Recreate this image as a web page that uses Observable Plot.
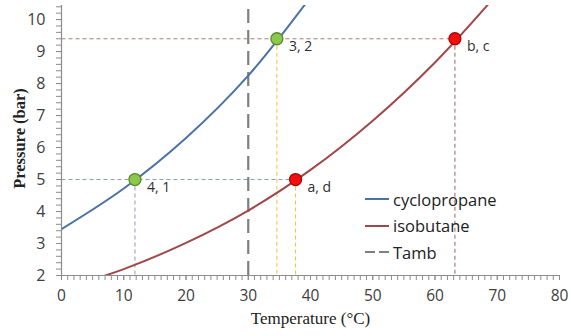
<!DOCTYPE html>
<html>
<head>
<meta charset="utf-8">
<script src="https://cdn.jsdelivr.net/npm/d3@7"></script>
<script src="https://cdn.jsdelivr.net/npm/@observablehq/plot@0.6"></script>
<style>
  body { margin: 0; background: #fff; }
  #wrap { position: relative; width: 571px; height: 336px; }
  #legend { position: absolute; left: 365px; top: 186px; font-family: "Open Sans", sans-serif; font-size: 16.5px; color: #222; }
  #legend .row { display: flex; align-items: center; height: 26.5px; }
  #legend svg { margin-right: 4px; }
</style>
</head>
<body>
<div id="wrap"><div id="legend"></div></div>
<script>
// Data
const temps = [0, 10, 20, 30, 40, 50, 60, 70];
const cycloP = [3.45, 4.72, 6.3, 8.25, 10.7];
const isoP = [1.57, 2.2, 3.02, 4.03, 5.3, 6.84, 8.66, 10.8];
const tamb = 30;
const stateLabels = ["4, 1", "3, 2", "a, d", "b, c"];
const stateT = [11.8, 34.6, 37.6, 63.2];
const stateP = [5, 9.4, 5, 9.4];
const stateFluid = ["cyclopropane", "cyclopropane", "isobutane", "isobutane"];
const xTicks = [0, 10, 20, 30, 40, 50, 60, 70, 80];
const yTicks = [2, 3, 4, 5, 6, 7, 8, 9, 10];
const seriesNames = ["cyclopropane", "isobutane", "Tamb"];

const yMin = 2, yMax = 10.44, xMin = 0, xMax = 80;

const cyclo = cycloP.map((p, i) => ({T: temps[i], P: p}));
const iso = isoP.map((p, i) => ({T: temps[i], P: p}));
const states = stateLabels.map((l, i) => ({label: l, T: stateT[i], P: stateP[i], fluid: stateFluid[i]}));

// guide lines derived from the state points
const guides = [
  {x1: xMin, y1: stateP[3], x2: stateT[3], y2: stateP[3], c: "#b87474"},
  {x1: stateT[3], y1: stateP[3], x2: stateT[3], y2: yMin, c: "#a06060"},
  {x1: stateT[1], y1: stateP[1], x2: stateT[1], y2: yMin, c: "#f0c040"},
  {x1: stateT[2], y1: stateP[2], x2: stateT[2], y2: yMin, c: "#f0c040"},
  {x1: xMin, y1: stateP[0], x2: stateT[2], y2: stateP[0], c: "#8a9cb2"},
  {x1: stateT[0], y1: stateP[0], x2: stateT[0], y2: yMin, c: "#8a9cb2"}
];

const blue = "#4a72a4", red = "#a04848", gray = "#7f7f7f", axisGray = "#8c8c8c";
const fillMap = {cyclopropane: "#8cc84b", isobutane: "#f01010"};
const strokeMap = {cyclopropane: "#5a8a2a", isobutane: "#b00000"};

const plot = Plot.plot({
  width: 571,
  height: 336,
  marginLeft: 61,
  marginRight: 12,
  marginTop: 5,
  marginBottom: 61,
  style: {fontFamily: "'Open Sans', sans-serif", background: "transparent"},
  x: {domain: [xMin, xMax], axis: null},
  y: {domain: [yMin, yMax], axis: null},
  marks: [
    Plot.link(guides, {x1: "x1", y1: "y1", x2: "x2", y2: "y2", stroke: d => d.c, strokeWidth: 1, strokeDasharray: "4,3"}),
    Plot.ruleX([tamb], {y1: yMin, y2: yMax, stroke: gray, strokeWidth: 2.2, strokeDasharray: "14,7"}),
    Plot.line(cyclo, {x: "T", y: "P", stroke: blue, strokeWidth: 2, curve: "catmull-rom", clip: true}),
    Plot.line(iso, {x: "T", y: "P", stroke: red, strokeWidth: 2, curve: "catmull-rom", clip: true}),
    // axes lines
    Plot.ruleY([yMin], {x1: xMin, x2: xMax, stroke: axisGray, strokeWidth: 1.2}),
    Plot.ruleX([xMin], {y1: yMin, y2: yMax, stroke: axisGray, strokeWidth: 1.2}),
    // minor ticks
    Plot.axisX({ticks: d3.range(0, 80.5, 1), tickSize: 5, text: null, stroke: axisGray}),
    Plot.axisY({ticks: d3.range(0, 43).map(i => 2 + i * 0.2).filter(v => v <= yMax), tickSize: 5, text: null, stroke: axisGray}),
    // major labels
    Plot.axisX({ticks: xTicks, tickSize: 5, tickPadding: 9, fontSize: 15.5, stroke: axisGray, color: "#404040", label: null}),
    Plot.axisY({ticks: yTicks, tickSize: 5, tickPadding: 11, fontSize: 16, stroke: axisGray, color: "#404040", label: null}),
    Plot.dot(states, {x: "T", y: "P", r: 6, fill: d => fillMap[d.fluid], stroke: d => strokeMap[d.fluid], strokeWidth: 1.3}),
    Plot.text(states, {x: "T", y: "P", text: "label", dx: 12, dy: 8, textAnchor: "start", fontSize: 14, fill: "#303030"}),
    Plot.text(["Temperature (°C)"], {frameAnchor: "bottom", dy: 48, fontSize: 17, fontFamily: "'Liberation Serif', serif", fill: "#222"}),
    Plot.text(["Pressure (bar)"], {frameAnchor: "left", textAnchor: "middle", dx: -42, dy: -2, rotate: -90, fontSize: 16.5, fontWeight: "bold", fontFamily: "'Liberation Serif', serif", fill: "#222"})
  ]
});
const wrap = document.getElementById("wrap");
wrap.insertBefore(plot, wrap.firstChild);

// legend
const legend = document.getElementById("legend");
const legStyles = [
  {stroke: blue, dash: null, w: 2},
  {stroke: red, dash: null, w: 2},
  {stroke: gray, dash: "10,4", w: 2.2}
];
seriesNames.forEach((name, i) => {
  const row = document.createElement("div");
  row.className = "row";
  const s = legStyles[i];
  row.innerHTML = `<svg width="24" height="10"><line x1="0" x2="24" y1="5" y2="5" stroke="${s.stroke}" stroke-width="${s.w}" ${s.dash ? `stroke-dasharray="${s.dash}"` : ""}/></svg><span>${name}</span>`;
  legend.appendChild(row);
});
</script>
</body>
</html>
